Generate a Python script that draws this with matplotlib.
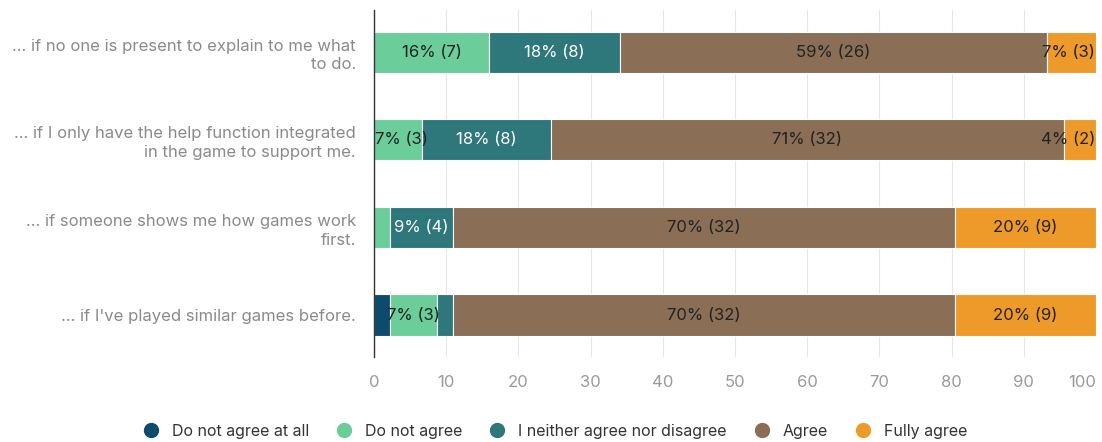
import numpy as np
import matplotlib.pyplot as plt
from matplotlib.lines import Line2D

plt.rcParams['font.family'] = ['Inter', 'DejaVu Sans']

# statements (top to bottom)
statements = [
    "... if no one is present to explain to me what\nto do.",
    "... if I only have the help function integrated\nin the game to support me.",
    "... if someone shows me how games work\nfirst.",
    "... if I've played similar games before.",
]
categories = ['Do not agree at all', 'Do not agree', 'I neither agree nor disagree',
              'Agree', 'Fully agree']
colors = ['#0c4a6e', '#6acd9a', '#2e777b', '#8a6e55', '#ee9a2b']
text_colors = ['white', '#222222', 'white', '#222222', '#222222']

# response counts per statement, one list per category
not_at_all = [0, 0, 0, 1]
not_agree = [7, 3, 1, 3]
neither = [8, 8, 4, 1]
agree = [26, 32, 32, 32]
fully = [3, 2, 9, 9]

counts = np.array([not_at_all, not_agree, neither, agree, fully], dtype=float)
totals = counts.sum(axis=0)
pcts = counts / totals * 100

fig = plt.figure(figsize=(11.02, 4.42), dpi=100)
ax = fig.add_axes([0.3394, 0.192, 0.6552, 0.785])

y = np.arange(len(statements))
left = np.zeros(len(statements))
half_w = 3.8  # keep labels inside the plot area
for i, cat in enumerate(categories):
    ax.barh(y, pcts[i], left=left, height=0.47, color=colors[i],
            edgecolor='white', linewidth=0.8, zorder=3)
    for j in range(len(statements)):
        if counts[i, j] >= 2:
            xc = left[j] + pcts[i, j] / 2
            xc = min(max(xc, half_w), 100 - half_w)
            ax.text(xc, y[j],
                    f"{int(round(pcts[i, j]))}% ({int(counts[i, j])})",
                    ha='center', va='center', fontsize=12,
                    color=text_colors[i], zorder=4)
    left += pcts[i]

ax.set_xlim(0, 100)
ax.set_ylim(3.48, -0.48)
ax.set_xticks(np.arange(0, 101, 10))
ax.set_yticks(y)
ax.set_yticklabels(statements, fontsize=12, color='#8a8a8a', linespacing=1.3)
ax.tick_params(axis='y', length=0, pad=13)
ax.tick_params(axis='x', length=0, pad=13, labelsize=12, labelcolor='#9a9a9a')
xt = ax.get_xticklabels()
xt[-1].set_horizontalalignment('right')
ax.grid(axis='x', color='#e6e6ea', linewidth=0.8, zorder=0)
for s in ['top', 'right', 'bottom']:
    ax.spines[s].set_visible(False)
ax.spines['left'].set_color('#333333')
ax.spines['left'].set_linewidth(1.0)
ax.spines['left'].set_zorder(5)

handles = [Line2D([0], [0], marker='o', linestyle='', markersize=10,
                  markerfacecolor=c, markeredgecolor=c) for c in colors]
fig.legend(handles, categories, loc='lower center', bbox_to_anchor=(0.5, -0.025),
           ncol=5, frameon=False, fontsize=11.5, handletextpad=0.3,
           columnspacing=1.2, labelcolor='#333333')

fig.savefig('out.png', dpi=100)
